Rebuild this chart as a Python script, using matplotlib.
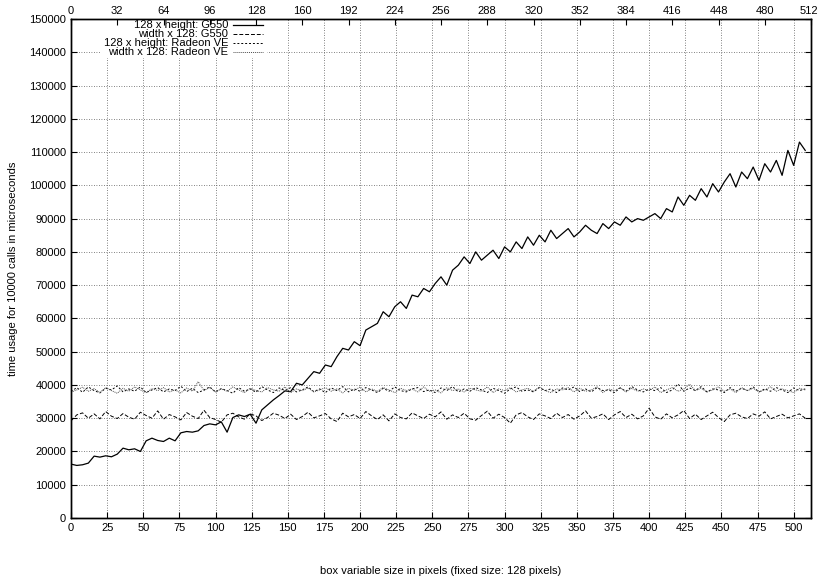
import numpy as np
import matplotlib
matplotlib.use("Agg")
import matplotlib.pyplot as plt
import matplotlib.transforms as mtransforms
from matplotlib.lines import Line2D
from matplotlib.patches import Rectangle

plt.rcParams['font.family'] = ['Liberation Sans', 'DejaVu Sans']
plt.rcParams['font.size'] = 8

# box variable size (pixels), sampled every 4 pixels
sizes = list(range(0, 512, 4))

g550_height = [
    16200, 15800, 16000, 16500, 18600, 18300, 18700, 18400, 19200, 21000,
    20500, 20800, 20000, 23200, 24000, 23300, 23000, 24000, 23200, 25600,
    26000, 25800, 26200, 27800, 28300, 28000, 28900, 25800, 30200, 31000,
    30500, 31200, 28500, 32500, 34000, 35500, 36800, 38200, 38000, 40500,
    40000, 42000, 44000, 43500, 46000, 45500, 48500, 51000, 50500, 53000,
    51800, 56500, 57500, 58500, 62000, 60500, 63500, 65000, 63000, 67000,
    66500, 69000, 68000, 70500, 72500, 70000, 74500, 76000, 78500, 76500,
    80000, 77500, 79000, 80500, 78000, 81500, 80000, 83000, 81000, 84500,
    82000, 85000, 83000, 86500, 84000, 85500, 87000, 84500, 86000, 88000,
    86500, 85500, 88500, 87000, 89000, 88000, 90500, 89000, 90000, 89500,
    90500, 91500, 90000, 93000, 92000, 96500, 94000, 97000, 95500, 99000,
    96500, 100500, 98000, 101000, 103500, 99500, 104000, 102000, 105500, 101500,
    106500, 104000, 107500, 103000, 110500, 106000, 113000, 110500,
]

g550_width = [
    29200, 31000, 31600, 30000, 31300, 29800, 32000, 30600, 29900, 31400,
    30300, 29700, 31800, 30800, 30000, 32200, 29700, 31100, 30400, 29500,
    31700, 30600, 29900, 32400, 30200, 29600, 28800, 31000, 31500, 30400,
    29700, 31300, 30700, 29300, 30200, 31500, 30900, 29900, 31200, 29600,
    30500, 31800, 30100, 30700, 31400, 29800, 29000, 31500, 30400, 31100,
    29900, 32000, 30700, 29600, 31000, 29200, 31300, 30200, 29800, 31600,
    30700, 29900, 31200, 30400, 31900, 29700, 31000, 30200, 31500, 29800,
    29400, 30800, 32100, 30000, 31200, 30200, 28500, 31000, 31700, 30400,
    29600, 31300, 30700, 29900, 31500, 30200, 31100, 29700, 30700, 32200,
    30000, 30500, 31300, 29600, 31000, 32000, 30200, 31200, 29800, 30700,
    33000, 30400, 29700, 31300, 30100, 31000, 32300, 29900, 31200, 29600,
    30700, 31800, 30200, 29000, 31000, 31500, 30400, 29900, 31300, 30600,
    31900, 29800, 30500, 31200, 30100, 30700, 31300, 30000,
]

radeon_height = [
    38000, 39200, 37800, 39400, 38300, 37600, 39000, 38500, 39700, 37900,
    38800, 38100, 39400, 37700, 38500, 39200, 37900, 38800, 38300, 39600,
    38000, 39000, 37700, 38500, 39400, 37900, 38900, 38300, 37500, 39200,
    38100, 38800, 37800, 39500, 38500, 37700, 39100, 38300, 39200, 37900,
    38500, 39400, 38000, 38800, 37700, 39100, 38300, 39500, 37900, 38800,
    38100, 39200, 38500, 37700, 39000, 38100, 39400, 38300, 37900, 38800,
    39200, 38000, 38500, 37700, 39100, 38300, 39500, 37900, 38800, 38100,
    39200, 38500, 37700, 39000, 38300, 37500, 38800, 39400, 38100, 38500,
    37900, 39200, 38300, 38800, 37700, 39100, 38500, 39400, 38000, 38800,
    37900, 39200, 38300, 38500, 37700, 39100, 38100, 39500, 38500, 37900,
    38800, 38300, 39200, 37700, 38500, 40300, 38100, 39100, 38300, 39500,
    37900, 38800, 38500, 37700, 39200, 38100, 39000, 38300, 39400, 37900,
    38800, 38100, 39200, 38500, 37700, 39100, 38300, 38800,
]

radeon_width = [
    37800, 38500, 39300, 38100, 38900, 37700, 39200, 38300, 37500, 39000,
    38100, 39400, 38500, 37700, 38900, 38300, 39200, 37900, 38500, 37600,
    39100, 38100, 41000, 38300, 39200, 37900, 38800, 38100, 39400, 38500,
    37700, 39000, 38300, 37900, 39200, 38500, 38100, 39400, 37700, 38800,
    38300, 39100, 37900, 38500, 39200, 38100, 38800, 37600, 39000, 38300,
    39400, 37900, 38800, 38100, 39200, 38500, 37700, 39000, 38300, 38800,
    37900, 39400, 38100, 38500, 37600, 39200, 38300, 38800, 37900, 39000,
    38500, 38100, 39400, 37700, 38800, 38300, 39200, 37900, 38500, 39000,
    38100, 39400, 38300, 37700, 38800, 38500, 39200, 37900, 39000, 38100,
    38500, 39400, 37700, 38800, 38300, 39200, 37900, 39000, 38100, 38800,
    38300, 39400, 37700, 38500, 39200, 38100, 38800, 40200, 38300, 39000,
    37900, 38500, 39400, 38100, 38800, 37700, 39200, 38300, 39000, 37900,
    38500, 39400, 38100, 38800, 38300, 37700, 39000, 38500,
]

labels = ["128 x height: G550", "width x 128: G550",
          "128 x height: Radeon VE", "width x 128: Radeon VE"]
series = [g550_height, g550_width, radeon_height, radeon_width]
styles = [dict(color='black', lw=0.9, linestyle='-'),
          dict(color='black', lw=0.7, linestyle=(0, (4, 2))),
          dict(color='black', lw=0.7, linestyle=(0, (2, 2))),
          dict(color='0.3', lw=0.7, linestyle=(0, (1, 1)))]

W, H = 819, 581
fig = plt.figure(figsize=(W / 100, H / 100), dpi=100)
ax = fig.add_axes([71 / W, 1 - 518 / H, 740 / W, 499 / H])

for vals, st in zip(series, styles):
    ax.plot(sizes[:len(vals)], vals, **st)

ax.set_xlim(0, 512)
ax.set_ylim(0, 150000)
ax.set_xticks(np.arange(0, 501, 25))
ax.set_yticks(np.arange(0, 150001, 10000))
ax.tick_params(direction='in', length=4, right=True, top=False, width=0.8)
ax.grid(True, color='0.35', linestyle=(0, (1, 2)), lw=0.6)

ax2 = ax.twiny()
ax2.set_xlim(0, 512)
ax2.set_xticks(np.arange(0, 513, 32))
ax2.tick_params(direction='in', length=4, width=0.8, pad=2)
last = ax2.get_xticklabels()[-1]
last.set_transform(last.get_transform() +
                   mtransforms.ScaledTranslation(-2 / 100, 0, fig.dpi_scale_trans))

for a in (ax, ax2):
    for s in a.spines.values():
        s.set_linewidth(1.0)

ax.set_xlabel("box variable size in pixels (fixed size: 128 pixels)", labelpad=24)
ax.set_ylabel("time usage for 10000 calls in microseconds", labelpad=8)

# gnuplot-style key: blank box, right-aligned text followed by the line sample
ax.add_patch(Rectangle((100 / W, 1 - 58 / H), 167 / W, 38 / H,
                       transform=fig.transFigure, facecolor='white',
                       edgecolor='none', zorder=1.8))
key_rows = [25, 34, 43, 52]
for lab, st, yp in zip(labels, styles, key_rows):
    fig.text(228 / W, 1 - yp / H, lab, ha='right', va='center')
    fig.add_artist(Line2D([233 / W, 263 / W], [1 - yp / H, 1 - yp / H],
                          transform=fig.transFigure, **st))

fig.savefig("out.png", dpi=100)
